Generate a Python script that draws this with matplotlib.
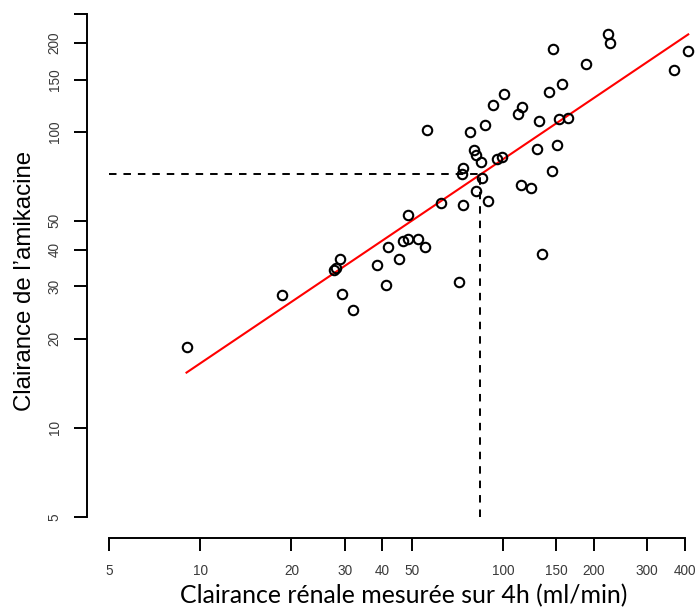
import matplotlib
matplotlib.use("Agg")
import matplotlib.pyplot as plt
import numpy as np

plt.rcParams["font.family"] = ["Liberation Sans", "DejaVu Sans"]
plt.rcParams["lines.scale_dashes"] = False

# Measured renal clearance over 4h (ml/min) and amikacin clearance
clairance_renale = [222, 226, 147, 189, 410, 369, 157, 142, 101, 93, 116, 112,
                    56, 78, 87, 132, 153, 164, 130, 151, 80, 81.5, 84.6, 96,
                    99.5, 74, 73.4, 85, 145, 115, 124, 81.4, 89, 74, 62.5,
                    48.4, 46.7, 48.4, 52.5, 55.4, 41.7, 38.4, 45.5, 135, 28.9,
                    41.2, 71.5, 29.4, 9.0, 18.6, 27.6, 28.0, 32.0]
clairance_amikacine = [214, 199, 191, 170, 188, 162, 145, 136.5, 134, 123, 121.5, 115,
                       101, 100, 105, 109, 110, 111, 87.6, 90, 87, 83.4, 79, 81,
                       82.3, 75.6, 72, 70, 73.5, 66, 64.5, 63, 58.3, 56.5, 57.4,
                       52.3, 42.7, 43.4, 43.3, 40.9, 40.8, 35.4, 37.2, 38.5, 37.2,
                       30.3, 31, 28.3, 18.7, 28, 34.2, 34.6, 24.9]

# log10(y) = intercept + slope * log10(x)
fit_intercept = 0.5287
fit_slope = 0.689

# reference point (dashed guides)
ref_x = 84
ref_y = 72

x_ticks = [5, 10, 20, 30, 40, 50, 100, 150, 200, 300, 400]
x_ticklabels = ["5", "10", "20", "30", "40", "50", "100", "150", "200", "300", "400"]
y_ticks = [5, 10, 20, 30, 40, 50, 100, 150, 200, 250]
y_ticklabels = ["5", "10", "20", "30", "40", "50", "100", "150", "200", ""]

W, H = 696, 608
fig = plt.figure(figsize=(W / 100, H / 100), dpi=100)
fig.patch.set_facecolor("white")

left_px, right_px, bottom_px, top_px = 86.7, 708.0, 537.5, -6.0
ax = fig.add_axes([left_px / W, 1 - bottom_px / H,
                   (right_px - left_px) / W, (bottom_px - top_px) / H])
ax.set_xscale("log")
ax.set_yscale("log")
ax.set_xlim(4.21, 476.6)
ax.set_ylim(4.256, 292)
ax.patch.set_alpha(0)

# dashed guides
ax.plot([5, ref_x], [ref_y, ref_y], color="black", lw=1.4,
        linestyle=(0, (5.4, 5.0)), zorder=1)
ax.plot([ref_x, ref_x], [5, ref_y], color="black", lw=1.4,
        linestyle=(0, (5.4, 5.0)), zorder=1)

# regression line over the data range
xr = np.array([min(clairance_renale), max(clairance_renale)])
yr = 10 ** (fit_intercept + fit_slope * np.log10(xr))
ax.plot(xr, yr, color="#ff0000", lw=1.5, zorder=2)

ax.plot(clairance_renale, clairance_amikacine, linestyle="none", marker="o",
        markersize=6.8, markerfacecolor="none", markeredgecolor="black",
        markeredgewidth=1.5, zorder=3)

for s in ["top", "right"]:
    ax.spines[s].set_visible(False)
ax.spines["left"].set_bounds(5, 250)
ax.spines["bottom"].set_bounds(5, 400)
for s in ["left", "bottom"]:
    ax.spines[s].set_linewidth(1.4)

ax.set_xticks(x_ticks)
ax.set_xticklabels(x_ticklabels)
ax.set_yticks(y_ticks)
ax.set_yticklabels(y_ticklabels)
ax.xaxis.set_minor_locator(matplotlib.ticker.NullLocator())
ax.yaxis.set_minor_locator(matplotlib.ticker.NullLocator())
ax.tick_params(axis="both", which="major", length=9.4, width=1.4,
               direction="out", labelsize=9.8, labelcolor="#3a3a3a")
ax.tick_params(axis="x", pad=9.5)
ax.tick_params(axis="y", pad=8.5)
for lab in ax.get_yticklabels():
    lab.set_rotation(90)
    lab.set_va("center")

fig.text(25 / W, 1 - 281 / H, "Clairance de l\u2019amikacine", rotation=90,
         ha="center", va="center", fontsize=17.3, family="Liberation Sans")
fig.text(404 / W, 1 - 596 / H, "Clairance rénale mesurée sur 4h (ml/min)",
         ha="center", va="center", fontsize=17.9, family="Lato")

fig.savefig("out.png", dpi=100)
